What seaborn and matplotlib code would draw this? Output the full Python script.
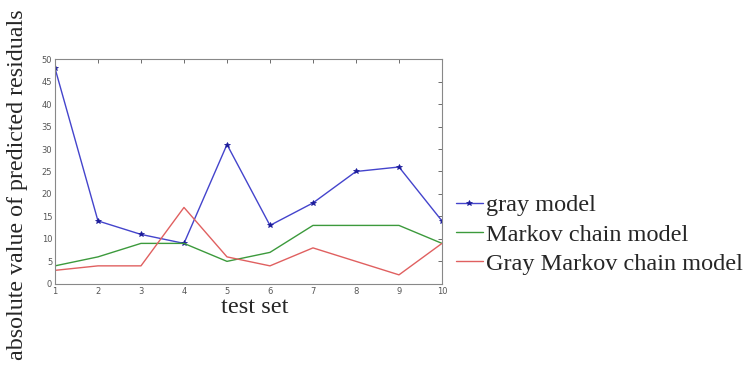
import matplotlib
matplotlib.use("Agg")
import matplotlib.pyplot as plt
import seaborn as sns
import pandas as pd

test_set = [1, 2, 3, 4, 5, 6, 7, 8, 9, 10]
gray_model = [48, 14, 11, 9, 31, 13, 18, 25, 26, 14]
markov_model = [4, 6, 9, 9, 5, 7, 13, 13, 13, 9]
gray_markov_model = [3, 4, 4, 17, 6, 4, 8, 5, 2, 9]
y_ticks = [0, 5, 10, 15, 20, 25, 30, 35, 40, 45, 50]

sns.set_style("white")
plt.rcParams['font.family'] = ['DejaVu Sans']

fig = plt.figure(figsize=(7.5, 3.72), dpi=100)
ax = fig.add_axes([0.0733, 0.237, 0.516, 0.604])

sns.lineplot(x=test_set, y=gray_model, ax=ax, color="#4444cc", linewidth=1.0,
             marker="*", markersize=4, markeredgewidth=0.5,
             markerfacecolor="#1a1a99", markeredgecolor="#1a1a99", label="gray model")
sns.lineplot(x=test_set, y=markov_model, ax=ax, color="#3c9a3c", linewidth=1.0,
             label="Markov chain model")
sns.lineplot(x=test_set, y=gray_markov_model, ax=ax, color="#e06060", linewidth=1.0,
             label="Gray Markov chain model")

ax.set_xlim(1, 10)
ax.set_ylim(0, 50)
ax.set_xticks(test_set)
ax.set_yticks(y_ticks)
ax.tick_params(direction="in", length=3, width=0.6, labelsize=6, colors="#555555",
               top=True, right=True, pad=2)
for s in ax.spines.values():
    s.set_color("#888888")
    s.set_linewidth(0.8)

serif = ['Liberation Serif', 'DejaVu Serif']
ax.set_xlabel("test set", fontsize=17.5, family=serif, labelpad=0)
ax.xaxis.set_label_coords(0.515, -0.06, transform=ax.transAxes)
ax.xaxis.label.set_va("top")
ax.set_ylabel("")
fig.text(0.024, 0.503, "absolute value of predicted residuals", rotation=90,
         fontsize=17.3, family=serif, ha="center", va="center")

handles, labels = ax.get_legend_handles_labels()
ax.get_legend().remove()
fig.legend(handles, labels, loc="upper left", bbox_to_anchor=(0.608, 0.478),
           frameon=False, prop={'family': serif, 'size': 17.5}, handlelength=1.1,
           handletextpad=0.15, labelspacing=0.3, borderaxespad=0.0, borderpad=0.0)

fig.savefig("out.png", dpi=100)
